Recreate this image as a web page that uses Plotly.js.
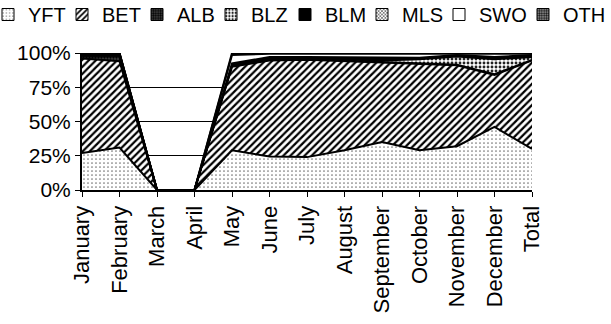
<!DOCTYPE html>
<html>
<head>
<meta charset="utf-8">
<script src="https://cdn.plot.ly/plotly-3.0.1.min.js"></script>
<style>html,body{margin:0;padding:0;background:#fff;}#chart{width:611px;height:324px;}</style>
</head>
<body>
<div id="chart"></div>
<script>
const categories = ['January','February','March','April','May','June','July','August','September','October','November','December','Total'];
const YFT = [27, 31, 0, 0, 29, 24.5, 24, 29, 35, 29, 32, 46, 30];
const BET = [69, 63, 0, 0, 61, 70, 71, 65, 57.5, 63, 59, 38, 64.5];
const ALB = [2, 4, 0, 0, 0.5, 0.5, 0.5, 0.5, 0.5, 0.5, 0.5, 0.5, 0.5];
const BLZ = [0, 0, 0, 0, 0.5, 0.5, 0.5, 0.5, 1.5, 3, 6, 11, 2];
const BLM = [1.5, 1.5, 0, 0, 1.5, 1.5, 1, 2, 2, 1, 1, 1.5, 1.5];
const MLS = [0, 0, 0, 0, 0, 0, 0, 0, 0, 0, 0, 0, 0];
const SWO = [0.5, 0.5, 0, 0, 6, 2.5, 2.5, 2.5, 3, 3, 1, 2.5, 1];
const OTH = [0, 0, 0, 0, 1.5, 0.5, 0.5, 0.5, 0.5, 0.5, 0.5, 0.5, 0.5];

const seriesNames = ['YFT','BET','ALB','BLZ','BLM','MLS','SWO','OTH'];
const seriesData = [YFT, BET, ALB, BLZ, BLM, MLS, SWO, OTH];
const yTickVals = [0, 25, 50, 75, 100];
const yTickText = ['0%', '25%', '50%', '75%', '100%'];

const patterns = [
  {shape: '.', fgcolor: '#777', bgcolor: '#fff', size: 4, solidity: 0.15},
  {shape: '/', fgcolor: '#000', bgcolor: '#fff', size: 5, solidity: 0.45},
  {shape: '.', fgcolor: '#000', bgcolor: '#444', size: 3, solidity: 0.5},
  {shape: '.', fgcolor: '#222', bgcolor: '#fff', size: 4, solidity: 0.4},
  {shape: '', fgcolor: '#000', bgcolor: '#000', size: 4, solidity: 0.5},
  {shape: 'x', fgcolor: '#333', bgcolor: '#fff', size: 3, solidity: 0.4},
  {shape: '', fgcolor: '#fff', bgcolor: '#fff', size: 4, solidity: 0.1},
  {shape: '.', fgcolor: '#111', bgcolor: '#999', size: 3, solidity: 0.5}
];
const fills = ['#fff','#fff','#444','#fff','#000','#fff','#fff','#999'];
// approximate centre (px) of each legend swatch
const legendBoxCentre = [8, 82, 157, 231, 305, 382, 459, 543];

const traces = [];
seriesNames.forEach((name, i) => {
  traces.push({
    type: 'scatter', mode: 'lines', x: categories, y: seriesData[i],
    stackgroup: 'one', name: name, showlegend: false,
    line: {color: '#000', width: 2},
    fillcolor: fills[i],
    fillpattern: patterns[i]
  });
});
const legendIds = seriesNames.map((n, i) => i === 0 ? 'legend' : 'legend' + (i + 1));
seriesNames.forEach((name, i) => {
  traces.push({
    type: 'bar', x: [categories[0]], y: [0], name: name, showlegend: true,
    legend: legendIds[i], hoverinfo: 'skip',
    marker: {color: fills[i], line: {color: '#000', width: 1}, pattern: patterns[i]}
  });
});

const M = {l: 82, r: 79, t: 53, b: 134};
const plotW = 611 - M.l - M.r;
const plotH = 324 - M.t - M.b;
const layout = {
  width: 611, height: 324,
  margin: {l: M.l, r: M.r, t: M.t, b: M.b, autoexpand: false},
  paper_bgcolor: '#fff', plot_bgcolor: '#fff',
  font: {family: 'Liberation Sans, Arial, sans-serif', color: '#000'},
  showlegend: true,
  xaxis: {
    type: 'category', range: [0, 12], tickangle: -90,
    tickfont: {size: 22}, ticks: 'outside', ticklen: 5, tickcolor: '#000',
    showline: true, linecolor: '#000', linewidth: 2, showgrid: false, zeroline: false
  },
  yaxis: {
    range: [0, 100], tickmode: 'array', tickvals: yTickVals, ticktext: yTickText,
    tickfont: {size: 21}, ticks: 'outside', ticklen: 5, tickcolor: '#000',
    showline: true, linecolor: '#000', linewidth: 2,
    showgrid: true, gridcolor: '#000', gridwidth: 1, zeroline: false
  }
};
legendIds.forEach((id, i) => {
  layout[id] = {
    orientation: 'h', xref: 'paper', yref: 'paper',
    x: (legendBoxCentre[i] - 20 - M.l) / plotW, xanchor: 'left',
    y: 1 + (M.t + 5) / plotH, yanchor: 'top',
    font: {size: 20}, itemwidth: 30, bgcolor: 'rgba(0,0,0,0)', borderwidth: 0
  };
});

Plotly.newPlot('chart', traces, layout, {displayModeBar: false, staticPlot: true});
</script>
</body>
</html>
